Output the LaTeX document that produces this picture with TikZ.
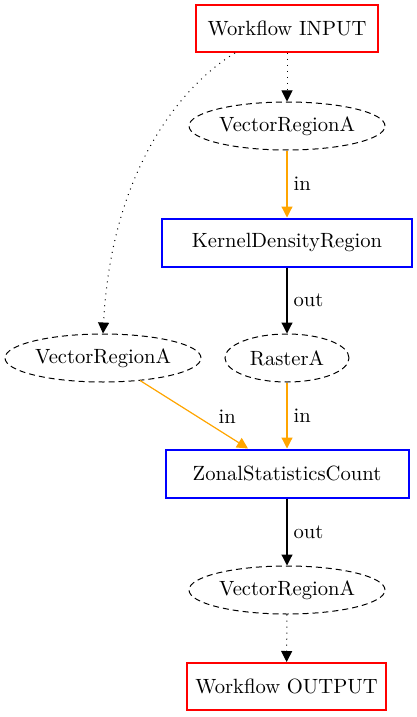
\documentclass[tikz,border=0pt]{standalone}
\usepackage{xcolor}
\definecolor{wfred}{RGB}{255,0,0}
\definecolor{wfblue}{RGB}{0,0,255}
\definecolor{wforange}{RGB}{255,165,0}
\usepackage{tikz}
\usetikzlibrary{arrows.meta, positioning, shapes.geometric, calc}

\begin{document}
\begin{tikzpicture}[x=0.5pt, y=-0.5pt,
  every node/.style={font=\fontsize{10.3}{12}\selectfont},
  iobox/.style={draw=wfred, line width=1pt, minimum height=23.5pt, inner sep=0pt},
  taskbox/.style={draw=wfblue, line width=1pt, minimum height=24pt, inner sep=0pt},
  dataoval/.style={ellipse, draw, dash pattern=on 3pt off 2pt, line width=0.5pt, minimum height=24pt, inner sep=0pt},
  tip/.style={-{Triangle[length=5.5pt, width=5.5pt]}},
  linkflow/.style={tip, line width=0.5pt, dash pattern=on 0.5pt off 2.5pt},
  inflow/.style={tip, draw=wforange, fill=wforange, line width=0.6pt},
  outflow/.style={tip, draw=black, fill=black, line width=0.6pt},
  edgelabel/.style={right, inner sep=3pt}]
  \useasboundingbox (0,0) rectangle (417,717);

  % Workflow input and first vector
  \node[iobox, minimum width=91pt] (wfin) at (287,28.5) {Workflow INPUT};
  \node[dataoval, minimum width=98pt] (vecA) at (287,126) {VectorRegionA};

  % Kernel density task
  \node[taskbox, minimum width=125pt] (kde) at (287,242.5) {KernelDensityRegion};

  % Middle row of data
  \node[dataoval, minimum width=98pt] (vecB) at (103,358) {VectorRegionA};
  \node[dataoval, minimum width=62pt] (rast) at (287,358) {RasterA};

  % Zonal statistics task
  \node[taskbox, minimum width=121.5pt] (zonal) at (287,473.5) {ZonalStatisticsCount};

  % Result and workflow output
  \node[dataoval, minimum width=98pt] (vecC) at (287,590) {VectorRegionA};
  \node[iobox, minimum width=99.5pt] (wfout) at (286.5,686.5) {Workflow OUTPUT};

  % Connectors
  \draw[linkflow] (wfin) -- (vecA);
  \draw[linkflow] ($(wfin.south)+(-52,0)$) .. controls (190,80) and (112,160) .. (vecB.north);
  \draw[inflow] (vecA) -- node[edgelabel] {in} (kde);
  \draw[outflow] (kde) -- node[edgelabel] {out} (rast);
  \draw[inflow] ($(vecB.south)+(37,-2)$) -- node[edgelabel, xshift=9pt, yshift=-1pt] {in} ($(zonal.north)+(-39,0)$);
  \draw[inflow] (rast) -- node[edgelabel] {in} (zonal);
  \draw[outflow] (zonal) -- node[edgelabel] {out} (vecC);
  \draw[linkflow] (vecC) -- (wfout);
\end{tikzpicture}
\end{document}
